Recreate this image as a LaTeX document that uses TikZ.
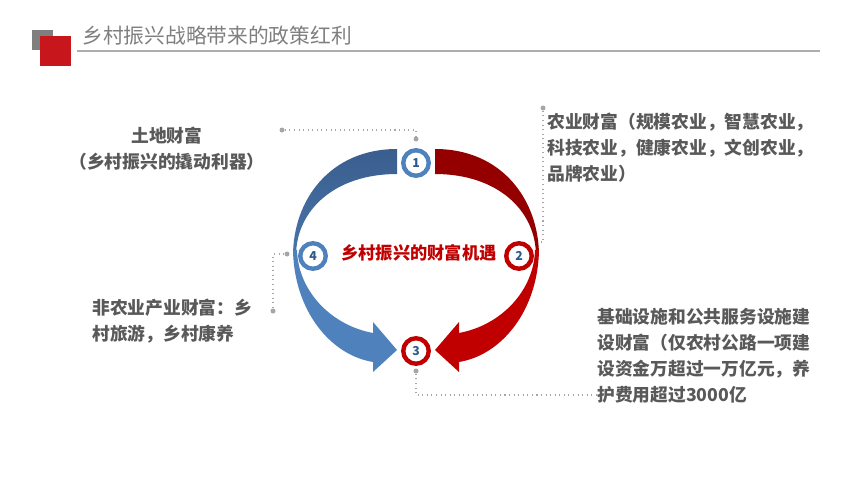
\documentclass[tikz,border=0pt]{standalone}
\usepackage{fontspec}
\newfontfamily\cjk{Noto Sans CJK SC}
\definecolor{TitleGray}{HTML}{7F7F7F}
\definecolor{TextGray}{HTML}{595959}
\definecolor{LeadGray}{HTML}{A6A6A6}
\definecolor{RuleGray}{HTML}{ADADAD}
\definecolor{BoxRed}{HTML}{C8161D}
\definecolor{BandBlueDark}{HTML}{3A5E8E}
\definecolor{BandBlueMid}{HTML}{4874AA}
\definecolor{BandBlue}{HTML}{4F81BD}
\definecolor{BandRedDark}{HTML}{940000}
\definecolor{BandRed}{HTML}{C00000}
\definecolor{NumBlue}{HTML}{2F5A8E}

\begin{document}
\begin{tikzpicture}[x=0.02cm,y=-0.02cm,
  lbl/.style={font=\cjk\bfseries\fontsize{10.1}{14.7}\selectfont,text=TextGray,inner sep=0pt,align=left},
  ring/.style={circle,draw=#1,line width=2.5pt,fill=white,minimum size=0.51cm,inner sep=0pt,
    font=\cjk\bfseries\fontsize{7}{8}\selectfont,text=NumBlue},
  dot/.style={circle,fill=LeadGray,inner sep=0pt,minimum size=0.1cm},
  leader/.style={draw=LeadGray,dotted,line width=0.6pt}]
  \useasboundingbox (0,0) rectangle (853,480);

  \fill[TitleGray] (32,30) rectangle (53,50);
  \fill[BoxRed] (40,36) rectangle (71,66);
  \node[anchor=west,inner sep=0pt,font=\cjk\fontsize{11.8}{13}\selectfont,text=TitleGray] (title) at (82,36) {乡村振兴战略带来的政策红利};
  \coordinate (ruleL) at (77,51);
  \coordinate (ruleR) at (820,51);
  \draw[RuleGray,line width=0.9pt] (ruleL) -- (ruleR);

  \shade[top color=BandBlueDark,bottom color=BandBlueMid] (397,149) .. controls (330,149) and (293,200) .. (293,256)
    -- (296,256) .. controls (296,210) and (335,174) .. (397,174) -- cycle;
  \fill[BandBlue] (293,250) .. controls (294,310) and (330,355) .. (373,362)
    -- (373,372) -- (397,350) -- (373,322) -- (373,333)
    .. controls (330,325) and (298,290) .. (297,250) -- cycle;
  \fill[BandRedDark] (435,149) .. controls (502,149) and (539,200) .. (539,256)
    -- (536,256) .. controls (536,210) and (497,174) .. (435,174) -- cycle;
  \fill[BandRed] (539,250) .. controls (538,310) and (502,355) .. (459,362)
    -- (459,372) -- (435,350) -- (459,322) -- (459,333)
    .. controls (502,325) and (534,290) .. (535,250) -- cycle;

  \node[font=\cjk\bfseries\fontsize{9.8}{12}\selectfont,text=BandRed] (hub) at (419,253) {乡村振兴的财富机遇};

  \node[ring=BandBlue] (n1) at (416,163) {1};
  \node[ring=BandRed] (n2) at (519,256) {2};
  \node[ring=BandRed] (n3) at (416,351) {3};
  \node[ring=BandBlue] (n4) at (313,256) {4};

  \node[lbl,align=center] (land) at (167,149) {土地财富\\（乡村振兴的撬动利器）};
  \node[lbl,anchor=west] (farm) at (547,148) {农业财富（规模农业，智慧农业，\\科技农业，健康农业，文创农业，\\品牌农业）};
  \node[lbl,anchor=west] (infra) at (597,356) {基础设施和公共服务设施建\\设财富（仅农村公路一项建\\设资金万超过一万亿元，养\\护费用超过3000亿};
  \node[lbl,anchor=west] (tour) at (92,321) {非农业产业财富：乡\\村旅游，乡村康养};

  \node[dot] (p1) at (282,130) {};
  \node[dot] (q1) at (416,139) {};
  \draw[leader] (p1) -| (q1);
  \node[dot] (p2) at (543,108) {};
  \coordinate (e2) at (538,242);
  \draw[leader] (p2) |- (e2);
  \node[dot] (p3) at (416,371) {};
  \coordinate (e3) at (597,395);
  \draw[leader] (p3) |- (e3);
  \node[dot] (p4) at (287,254) {};
  \node[dot] (q4) at (273,311) {};
  \draw[leader] (p4) -| (q4);
\end{tikzpicture}
\end{document}
